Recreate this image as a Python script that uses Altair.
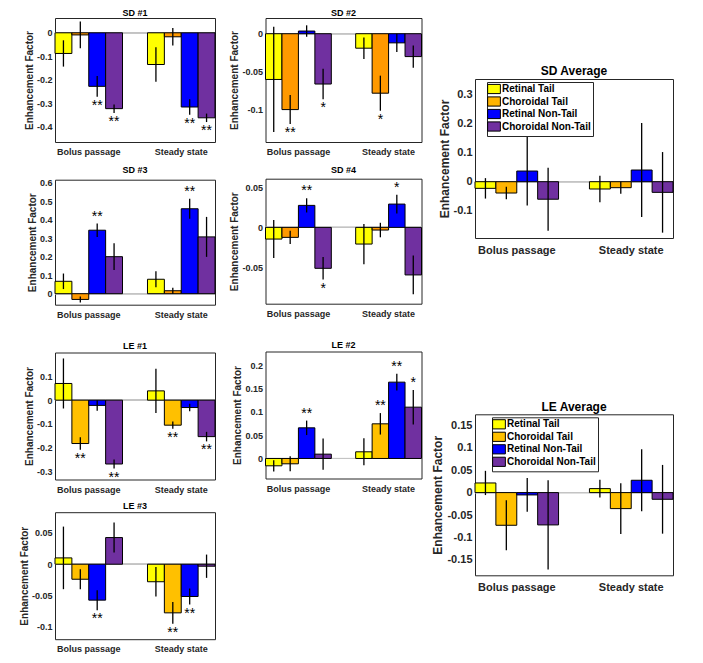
import altair as alt
import pandas as pd

series = ["Retinal Tail", "Choroidal Tail", "Retinal Non-Tail", "Choroidal Non-Tail"]
phases = ["Bolus passage", "Steady state"]

# values: Bolus passage (4 series) then Steady state (4 series)
sd1_mean = [-0.088, -0.009, -0.228, -0.323, -0.135, -0.017, -0.316, -0.362]
sd1_err = [0.056, 0.057, 0.044, 0.018, 0.073, 0.037, 0.033, 0.018]
sd1_sig = ["", "", "**", "**", "", "", "**", "**"]

sd2_mean = [-0.060, -0.0995, 0.0035, -0.066, -0.019, -0.078, -0.012, -0.030]
sd2_err = [0.069, 0.019, 0.0075, 0.020, 0.014, 0.023, 0.012, 0.0145]
sd2_sig = ["", "**", "", "*", "", "*", "", ""]

sd3_mean = [0.067, -0.031, 0.343, 0.200, 0.078, 0.016, 0.459, 0.307]
sd3_err = [0.042, 0.016, 0.036, 0.072, 0.043, 0.016, 0.054, 0.108]
sd3_sig = ["", "", "**", "", "", "", "**", ""]

sd4_mean = [-0.0145, -0.0124, 0.0273, -0.0508, -0.0207, -0.0033, 0.0289, -0.059]
sd4_err = [0.0235, 0.0083, 0.0088, 0.014, 0.025, 0.009, 0.0116, 0.024]
sd4_sig = ["", "", "**", "*", "", "", "*", ""]

le1_mean = [0.070, -0.182, -0.022, -0.268, 0.039, -0.105, -0.031, -0.153]
le1_err = [0.105, 0.026, 0.022, 0.019, 0.093, 0.015, 0.016, 0.020]
le1_sig = ["", "**", "", "**", "", "**", "", "**"]

le2_mean = [-0.0157, -0.0114, 0.0657, 0.0093, 0.0143, 0.0743, 0.1636, 0.110]
le2_err = [0.012, 0.016, 0.0155, 0.0335, 0.029, 0.023, 0.018, 0.037]
le2_sig = ["", "", "**", "", "", "**", "**", "*"]

le3_mean = [0.0101, -0.024, -0.0574, 0.0426, -0.028, -0.0777, -0.0516, -0.0032]
le3_err = [0.050, 0.016, 0.016, 0.024, 0.0235, 0.0173, 0.0128, 0.0186]
le3_sig = ["", "", "**", "", "", "**", "**", ""]

sdavg_mean = [-0.0228, -0.0388, 0.0365, -0.060, -0.025, -0.0205, 0.040, -0.0365]
sdavg_err = [0.035, 0.0215, 0.118, 0.108, 0.045, 0.0205, 0.161, 0.138]

leavg_mean = [0.0215, -0.0728, -0.0052, -0.072, 0.0089, -0.0357, 0.0275, -0.0149]
leavg_err = [0.027, 0.0557, 0.0375, 0.0996, 0.020, 0.0565, 0.069, 0.0766]

# axis limits and tick labels
sd1_dom, sd1_ticks = [-0.465, 0.063], [-0.4, -0.3, -0.2, -0.1, 0]
sd2_dom, sd2_ticks = [-0.142, 0.0206], [-0.1, -0.05, 0]
sd3_dom, sd3_ticks = [-0.0595, 0.616], [0, 0.1, 0.2, 0.3, 0.4, 0.5, 0.6]
sd4_dom, sd4_ticks = [-0.0947, 0.0604], [-0.05, 0, 0.05]
le1_dom, le1_ticks = [-0.333, 0.2], [-0.3, -0.2, -0.1, 0, 0.1]
le2_dom, le2_ticks = [-0.0429, 0.2293], [0, 0.05, 0.1, 0.15, 0.2]
le3_dom, le3_ticks = [-0.1198, 0.0831], [-0.1, -0.05, 0, 0.05]
sdavg_dom, sdavg_ticks = [-0.1928, 0.3517], [-0.1, 0, 0.1, 0.2, 0.3]
leavg_dom, leavg_ticks = [-0.1843, 0.1745], [-0.15, -0.1, -0.05, 0, 0.05, 0.1, 0.15]

sd_colors = ["#FFFF00", "#FF9900", "#0000FF", "#7030A0"]
le_colors = ["#FFFF00", "#FFC000", "#0000FF", "#7030A0"]
sdavg_colors = ["#FFFF00", "#FFB400", "#0000FF", "#7030A0"]
leavg_colors = ["#FFFF00", "#FFC000", "#0000FF", "#7030A0"]

AX = "#262626"
RECT = "M-1.8,-1.3H1.8V1.3H-1.8Z"


def frame(mean, err, sig=None):
    rows = []
    for i, ph in enumerate(phases):
        for j, s in enumerate(series):
            k = i * 4 + j
            m, e = mean[k], err[k]
            rows.append({
                "phase": ph, "series": s, "mean": m,
                "lo": m - e, "hi": m + e,
                "sig": sig[k] if sig else "",
                "star_y": (m + e) if m > 0 else (m - e),
            })
    return pd.DataFrame(rows)


def panel(title, df, colors, domain, ticks, width, height, big=False,
          legend_xy=None, title_offset=2.0):
    fs_tick = 11 if big else 9
    fs_title = 12 if big else 9
    fs_axis = 12 if big else 10
    x = alt.X("phase:N", sort=phases,
              scale=alt.Scale(paddingInner=0.27, paddingOuter=0),
              axis=alt.Axis(title=None, labelAngle=0, ticks=False, tickSize=0,
                            domain=False, labelPadding=6 if big else 5.5,
                            labelFontSize=fs_tick))
    xo = alt.XOffset("series:N", sort=series,
                     scale=alt.Scale(paddingInner=0, paddingOuter=0))
    yscale = alt.Scale(domain=domain, nice=False, zero=False)
    yaxis = alt.Axis(title="Enhancement Factor", values=ticks,
                     labelExpr="toString(datum.value)", ticks=False,
                     tickSize=0, domain=False, grid=False, labelPadding=3,
                     titlePadding=2, labelFontSize=fs_tick,
                     titleFontSize=fs_axis)
    if legend_xy:
        legend = alt.Legend(orient="none", legendX=legend_xy[0], legendY=legend_xy[1],
                            direction="vertical", symbolType=RECT, symbolSize=50,
                            symbolStrokeColor="black", symbolStrokeWidth=1,
                            labelFontSize=10, labelFontWeight="bold",
                            labelColor="black", strokeColor=AX, fillColor="white",
                            padding=2, rowPadding=-1.5, labelOffset=3, labelLimit=300)
        color = alt.Color("series:N", sort=series,
                          scale=alt.Scale(domain=series, range=colors),
                          legend=legend, title=None)
    else:
        color = alt.Color("series:N", sort=series,
                          scale=alt.Scale(domain=series, range=colors),
                          legend=None)
    base = alt.Chart(df)
    zero = base.mark_rule(color="#C4C4C4", strokeWidth=1).encode(
        y=alt.YDatum(0, scale=yscale, axis=yaxis))
    bars = base.mark_bar(stroke="black", strokeWidth=1).encode(
        x=x, xOffset=xo, y=alt.Y("mean:Q", scale=yscale, axis=yaxis), color=color)
    errs = base.mark_rule(color="black", strokeWidth=1.3).encode(
        x=x, xOffset=xo, y=alt.Y("lo:Q", scale=yscale, axis=yaxis), y2="hi:Q")
    layers = [zero, bars, errs]
    if (df["sig"] != "").any():
        neg = base.transform_filter("datum.sig != '' && datum.mean < 0").mark_text(
            baseline="top", dy=2, fontSize=14, color="black").encode(
            x=x, xOffset=xo, y=alt.Y("star_y:Q", scale=yscale, axis=yaxis), text="sig:N")
        pos = base.transform_filter("datum.sig != '' && datum.mean > 0").mark_text(
            baseline="bottom", dy=0, fontSize=14, color="black").encode(
            x=x, xOffset=xo, y=alt.Y("star_y:Q", scale=yscale, axis=yaxis), text="sig:N")
        layers += [neg, pos]
    return alt.layer(*layers).properties(
        width=width, height=height,
        title=alt.TitleParams(text=title, fontSize=fs_title, fontWeight="bold",
                              offset=title_offset, color="black", anchor="middle"))


def res(c):
    return c.resolve_scale(color="independent", xOffset="independent")


W1, W2, W3 = 160, 156, 198

sd1 = panel("SD #1", frame(sd1_mean, sd1_err, sd1_sig), sd_colors, sd1_dom, sd1_ticks, W1, 124, title_offset=0)
sd2 = panel("SD #2", frame(sd2_mean, sd2_err, sd2_sig), sd_colors, sd2_dom, sd2_ticks, W2, 124, title_offset=0)
sd3 = panel("SD #3", frame(sd3_mean, sd3_err, sd3_sig), sd_colors, sd3_dom, sd3_ticks, W1, 125, title_offset=3.8)
sd4 = panel("SD #4", frame(sd4_mean, sd4_err, sd4_sig), sd_colors, sd4_dom, sd4_ticks, W2, 125, title_offset=3.8)
le1 = panel("LE #1", frame(le1_mean, le1_err, le1_sig), le_colors, le1_dom, le1_ticks, W1, 127, title_offset=2)
le2 = panel("LE #2", frame(le2_mean, le2_err, le2_sig), le_colors, le2_dom, le2_ticks, W2, 127, title_offset=2)
le3 = panel("LE #3", frame(le3_mean, le3_err, le3_sig), le_colors, le3_dom, le3_ticks, W1, 127, title_offset=1)
sdavg = panel("SD Average", frame(sdavg_mean, sdavg_err), sdavg_colors, sdavg_dom, sdavg_ticks, W3, 159,
              big=True, legend_xy=(12, 3), title_offset=1.5)
leavg = panel("LE Average", frame(leavg_mean, leavg_err), leavg_colors, leavg_dom, leavg_ticks, W3, 161,
              big=True, legend_xy=(17, 3), title_offset=0.5)

spacer = alt.Chart(pd.DataFrame({"v": [0]})).mark_point(opacity=0).encode(
    x=alt.value(0), y=alt.value(0)).properties(
    width=W3, height=35.5, view=alt.ViewBackground(strokeOpacity=0))

col1 = res(alt.vconcat(res(alt.vconcat(sd1, sd3, spacing=7.7)),
                       res(alt.vconcat(le1, le3, spacing=6.7)), spacing=20.5))
col2 = res(alt.vconcat(res(alt.vconcat(sd2, sd4, spacing=7.7)), le2, spacing=20.5))
col3 = res(alt.vconcat(res(alt.vconcat(spacer, sdavg, spacing=10)), leavg, spacing=144.3))

chart = res(alt.hconcat(res(alt.hconcat(col1, col2, spacing=12.5)), col3, spacing=8)).properties(
    padding={"left": 10, "top": 0, "right": 0, "bottom": 0}
).configure(font="Liberation Sans").configure_view(
    stroke=AX, strokeWidth=1
).configure_axis(
    labelColor=AX, titleColor=AX, labelFontWeight="bold", titleFontWeight="bold"
)

chart.save("out.html", embed_options={"renderer": "svg", "actions": False})
